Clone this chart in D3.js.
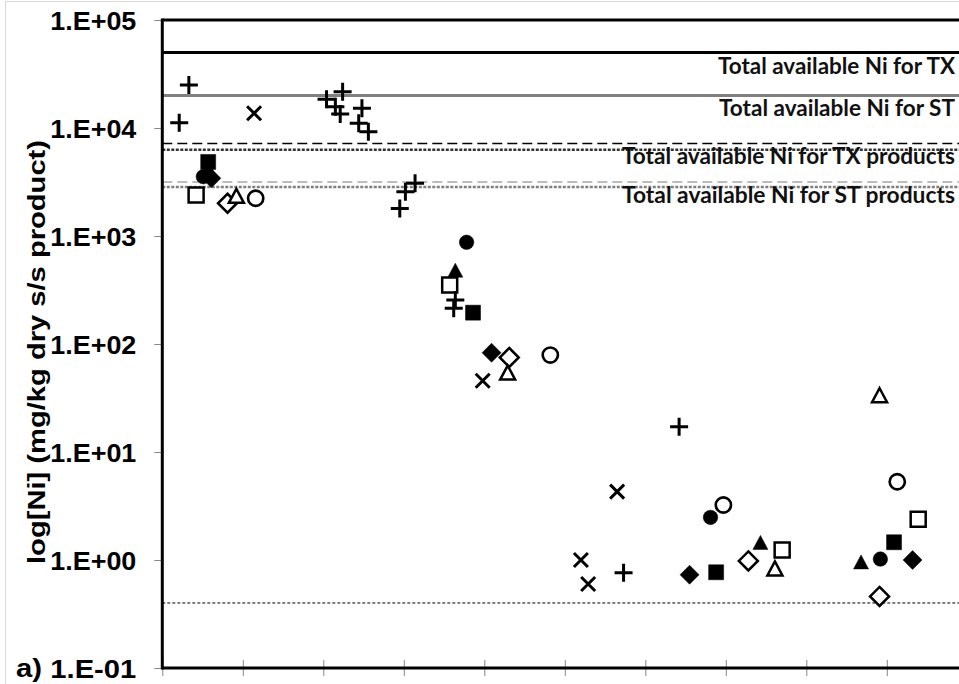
<html>
<head>
<title>log[Ni]</title>
<script src="https://d3js.org/d3.v7.min.js"></script>
<style>
body { margin: 0; background: #fff; }
text { font-family: "Liberation Sans", Arial, sans-serif; font-weight: bold; }
.lbl { font-family: Lato, "Open Sans", sans-serif; font-weight: bold; font-size: 22px; fill: #111; }
</style>
</head>
<body>
<script>

// y tick values (decades)
var yTicks = [1e-1, 1e0, 1e1, 1e2, 1e3, 1e4, 1e5];
var xTicks = [0, 1, 2, 3, 4, 5, 6, 7, 8, 9, 10];

// reference levels
var refLevels = [5e4, 2e4, 7200, 6300, 3170, 2850, 0.4];
var refLabels = ["Total available Ni for TX", "Total available Ni for ST",
                 "Total available Ni for TX products", "Total available Ni for ST products"];
var refLabelY = [5e4, 2e4, 7200, 3170];

// series, [x, value]
var plusPts = [[0.33, 25000], [0.21, 11200], [2.04, 18450], [2.24, 21700], [2.15, 15750],
               [2.21, 13480], [2.48, 15220], [2.44, 11060], [2.56, 9240], [2.95, 1800],
               [3.02, 2570], [3.14, 3075], [3.64, 255], [3.62, 214], [6.42, 17.1], [5.73, 0.76]];
var crossPts = [[1.14, 13700], [3.98, 45.7], [5.65, 4.3], [5.2, 1.0], [5.29, 0.6]];
var fCirclePts = [[0.51, 3540], [3.78, 875], [6.81, 2.48], [8.92, 1.02]];
var fSquarePts = [[0.57, 4850], [3.86, 195], [6.88, 0.77], [9.09, 1.46]];
var fTrianglePts = [[0.57, 4100], [3.64, 467], [7.43, 1.41], [8.68, 0.93]];
var fDiamondPts = [[0.61, 3420], [4.09, 83], [6.55, 0.73], [9.32, 1.0]];
var oSquarePts = [[0.42, 2400], [3.57, 352], [7.7, 1.24], [9.39, 2.38]];
var oDiamondPts = [[0.81, 2010], [4.31, 75], [7.28, 0.98], [8.91, 0.46]];
var oTrianglePts = [[0.92, 2280], [4.29, 52.7], [7.61, 0.81], [8.91, 32.5]];
var oCirclePts = [[1.16, 2235], [4.82, 79], [6.97, 3.23], [9.13, 5.3]];

var W = 959, H = 684;
var svg = d3.select("body").append("svg")
    .attr("width", W).attr("height", H);

// chart area border
svg.append("rect")
    .attr("x", 5.5).attr("y", 1.5).attr("width", W + 20).attr("height", H + 20)
    .attr("fill", "none").attr("stroke", "#d9d9d9");

var x = d3.scaleLinear().domain([0, 10]).range([162.3, 967.3]);
var y = d3.scaleLog().domain([0.1, 1e5]).range([668, 20]);

// reference lines
var refStyle = [
  {stroke: "#000", w: 3, dash: null},
  {stroke: "#808080", w: 3, dash: null},
  {stroke: "#000", w: 1.5, dash: "10,5"},
  {stroke: "#333", w: 2.5, dash: "3,1.5"},
  {stroke: "#a6a6a6", w: 1.5, dash: "10,5"},
  {stroke: "#7f7f7f", w: 2.5, dash: "3,1.5"},
  {stroke: "#000", w: 1, dash: "3,2"}
];
svg.selectAll(".ref").data(refLevels).enter().append("line")
    .attr("class", "ref")
    .attr("x1", x(0)).attr("x2", W + 10)
    .attr("y1", function(d) { return y(d); })
    .attr("y2", function(d) { return y(d); })
    .attr("stroke", function(d, i) { return refStyle[i].stroke; })
    .attr("stroke-width", function(d, i) { return refStyle[i].w; })
    .attr("stroke-dasharray", function(d, i) { return refStyle[i].dash; });

var labW = [237, 236, 333, 333];
svg.selectAll(".lbl").data(refLabels).enter().append("text")
    .attr("class", "lbl")
    .attr("x", 955)
    .attr("y", function(d, i) { return y(refLabelY[i]) + 21; })
    .attr("text-anchor", "end")
    .attr("textLength", function(d, i) { return labW[i]; })
    .attr("lengthAdjust", "spacingAndGlyphs")
    .text(function(d) { return d; });

// marker paths
var shapes = {
  plus: "M-9,0H9M0,-9V9",
  cross: "M-7,-7L7,7M-7,7L7,-7",
  circle: d3.symbol().type(d3.symbolCircle).size(165)(),
  square: "M-7.5,-7.5H7.5V7.5H-7.5Z",
  triangle: "M0,-8.5L7.5,5.5H-7.5Z",
  diamond: "M0,-9.5L9.5,0L0,9.5L-9.5,0Z"
};

function drawSeries(data, shape, filled, scale) {
  svg.append("g").selectAll("path").data(data).enter().append("path")
      .attr("transform", function(d) { return "translate(" + x(d[0]) + "," + y(d[1]) + ")" + (scale ? " scale(" + scale + ")" : ""); })
      .attr("d", shapes[shape])
      .attr("fill", filled ? "#000" : (shape == "plus" || shape == "cross" ? "none" : "#fff"))
      .attr("stroke", "#000")
      .attr("stroke-width", (shape == "plus" || shape == "cross") ? 3 : (filled ? 0.5 : 2.5));
}

drawSeries(oSquarePts, "square", false);
drawSeries(oDiamondPts, "diamond", false);
drawSeries(oTrianglePts, "triangle", false);
drawSeries(oCirclePts, "circle", false, 1.05);
drawSeries(fTrianglePts, "triangle", true);
drawSeries(fSquarePts, "square", true);
drawSeries(fCirclePts, "circle", true);
drawSeries(fDiamondPts, "diamond", true);
drawSeries(crossPts, "cross", false);
drawSeries(plusPts, "plus", false);

// y axis
var fmt = function(v) {
  var e = Math.round(Math.log10(v));
  return "1.E" + (e < 0 ? "-" : "+") + (Math.abs(e) < 10 ? "0" : "") + Math.abs(e);
};
var yAxis = svg.append("g")
    .attr("transform", "translate(" + x(0) + ",0)")
    .call(d3.axisLeft(y).tickValues(yTicks).tickFormat(fmt).tickSize(8).tickPadding(18));
yAxis.select(".domain").remove();
yAxis.selectAll(".tick line").attr("stroke", "#888").attr("stroke-width", 1);
yAxis.selectAll(".tick text")
    .attr("fill", "#000").attr("font-size", 25)
    .attr("textLength", 86).attr("lengthAdjust", "spacingAndGlyphs")
    .attr("dy", "0.36em");

// x axis
var xAxis = svg.append("g")
    .attr("transform", "translate(0," + y(0.1) + ")")
    .call(d3.axisBottom(x).tickValues(xTicks).tickFormat("").tickSize(8));
xAxis.select(".domain").remove();
xAxis.selectAll(".tick line").attr("y1", -8).attr("stroke", "#888").attr("stroke-width", 1);

// axis lines
svg.append("line")
    .attr("x1", x(0)).attr("x2", x(0)).attr("y1", y(1e5) - 1.5).attr("y2", y(0.1) + 1.5)
    .attr("stroke", "#000").attr("stroke-width", 3);
svg.append("line")
    .attr("x1", x(0)).attr("x2", W + 10).attr("y1", y(0.1)).attr("y2", y(0.1))
    .attr("stroke", "#000").attr("stroke-width", 3);
svg.append("line")
    .attr("x1", x(0)).attr("x2", W + 10).attr("y1", y(1e5)).attr("y2", y(1e5))
    .attr("stroke", "#000").attr("stroke-width", 3);

svg.append("text")
    .attr("x", 16).attr("y", y(0.1)).attr("dy", "0.36em")
    .attr("font-size", 25).attr("textLength", 26).attr("lengthAdjust", "spacingAndGlyphs")
    .text("a)");

// y title
svg.append("text")
    .attr("transform", "translate(45," + 352 + ") rotate(-90)")
    .attr("text-anchor", "middle")
    .attr("font-size", 23)
    .attr("textLength", 424).attr("lengthAdjust", "spacingAndGlyphs")
    .text("log[Ni] (mg/kg dry s/s product)");

</script>
</body>
</html>
